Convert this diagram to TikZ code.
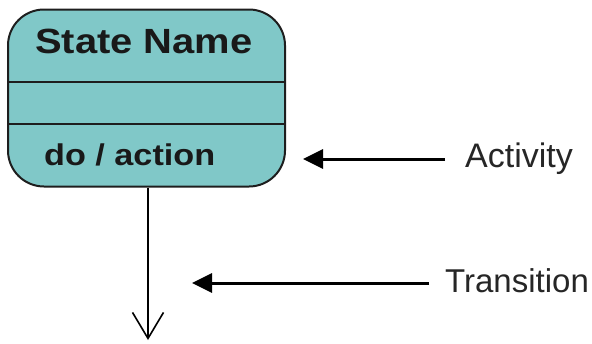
\documentclass[tikz,border=0pt]{standalone}
\usepackage{fontspec}
\setmainfont{Liberation Sans}
\newfontfamily\widesans{Liberation Sans}[FakeStretch=1.14]
\usetikzlibrary{arrows.meta}
\definecolor{statefill}{RGB}{128,200,200}
\definecolor{edge}{RGB}{30,30,30}
\tikzset{
  statebox/.style={draw=edge, line width=2pt, fill=statefill, rounded corners=36pt,
    minimum width=277pt, minimum height=177pt, inner sep=0pt},
  divider/.style={draw=edge, line width=2pt},
  pointer/.style={draw=black, line width=3pt, -{Triangle[length=20pt,width=19pt]}},
  flow/.style={draw=black, line width=1.6pt, -{Straight Barb[length=26pt,width=31pt,line width=1.6pt]}},
  caption/.style={anchor=base west, inner sep=0pt, font=\fontsize{34}{40}\selectfont, text=black!85},
  statetext/.style={inner sep=0pt, font=\widesans\bfseries, text=black!90}
}
\begin{document}
\begin{tikzpicture}[x=1pt,y=-1pt]
\useasboundingbox (0,0) rectangle (592,343);
% state with its three compartments
\node[statebox] (state) at (146.5,98) {};
\coordinate (divA) at (0,82);
\coordinate (divB) at (0,124);
\draw[divider] (state.west |- divA) -- (state.east |- divA);
\draw[divider] (state.west |- divB) -- (state.east |- divB);
\node[statetext, anchor=base, font=\widesans\bfseries\fontsize{35}{40}\selectfont] (name) at (144,53) {State Name};
\node[statetext, anchor=base west, font=\widesans\bfseries\fontsize{30}{36}\selectfont] (act) at (44,165) {do / action};
% outgoing transition
\coordinate (flowend) at (148,340);
\draw[flow] (state.south -| flowend) -- (flowend);
% callouts
\node[caption] (activity) at (465,167) {Activity};
\node[caption, font=\fontsize{33}{40}\selectfont] (transition) at (445,292) {Transition};
\coordinate (acttip) at (303,159);
\coordinate (trtip) at (192,283);
\draw[pointer] ([xshift=-20pt]activity.west |- acttip) -- (acttip);
\draw[pointer] ([xshift=-16pt]transition.west |- trtip) -- (trtip);
\end{tikzpicture}
\end{document}
